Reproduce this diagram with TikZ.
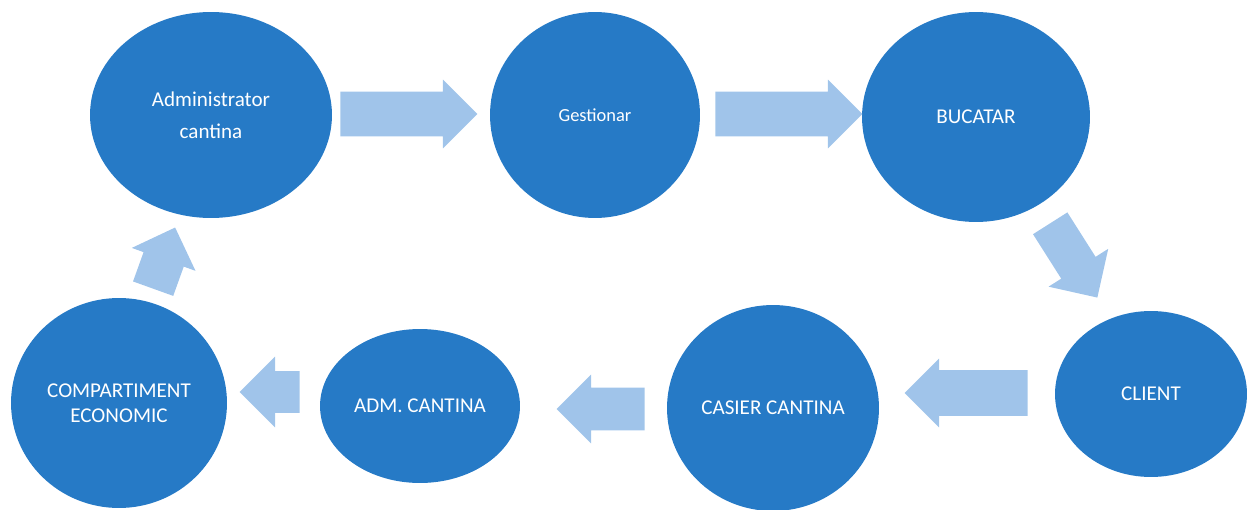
\documentclass[tikz,border=0pt]{standalone}
\usepackage{fontspec}
\setmainfont{Carlito}
\usetikzlibrary{shapes.geometric,shapes.arrows}
\definecolor{cycleblue}{RGB}{38,122,198}
\definecolor{arrowblue}{RGB}{160,196,234}

\begin{document}
\begin{tikzpicture}[x=0.02cm, y=-0.02cm, font=\fontsize{12pt}{14pt}\selectfont]
		\tikzset{circ/.style={ellipse, fill=cycleblue, text=white, inner sep=0pt, align=center}}
		\tikzset{barrow/.style={single arrow, fill=arrowblue, anchor=tail, inner xsep=0pt, inner ysep=0.44cm, minimum width=0pt, single arrow head extend=0.24cm}}
		\useasboundingbox (0,0) rectangle (1254,510);
		% top row
		\node[circ, minimum width=4.84cm, minimum height=4.12cm, font=\fontsize{12pt}{18pt}\selectfont] (admin) at (211,115) {Administrator\\cantina};
		\node[circ, minimum width=4.2cm, minimum height=4.12cm, font=\fontsize{10.5pt}{12pt}\selectfont] (gest) at (595,115) {Gestionar};
		\node[circ, minimum width=4.56cm, minimum height=4.2cm] (bucatar) at (976,117) {BUCATAR};
		% bottom row
		\node[circ, minimum width=3.84cm, minimum height=3.32cm] (client) at (1151,394) {CLIENT};
		\node[circ, minimum width=4.24cm, minimum height=4.12cm] (casier) at (773,408) {CASIER CANTINA};
		\node[circ, minimum width=4.0cm, minimum height=3.08cm] (adm) at (420,406) {ADM. CANTINA};
		\node[circ, minimum width=4.32cm, minimum height=4.2cm] (compart) at (119,403) {COMPARTIMENT\\ECONOMIC};
		% block arrows (placed by their tails)
		\node[barrow, minimum height=2.74cm] (a1) at (340,114) {};
		\node[barrow, minimum height=2.94cm] (a2) at (715,114) {};
		\node[barrow, minimum height=1.76cm, inner ysep=0.4cm, single arrow head extend=0.3cm, rotate=-57.6] (a3) at (1050,223) {};
		\node[barrow, minimum height=2.46cm, inner ysep=0.45cm, single arrow head extend=0.23cm, rotate=180] (a4) at (1028,393) {};
		\node[barrow, minimum height=1.76cm, inner ysep=0.42cm, single arrow head extend=0.26cm, rotate=180] (a5) at (645,409) {};
		\node[barrow, minimum height=1.2cm, inner ysep=0.41cm, single arrow head extend=0.29cm, rotate=180] (a6) at (300,392) {};
		\node[barrow, minimum height=1.3cm, inner ysep=0.42cm, single arrow head extend=0.25cm, rotate=70.2] (a7) at (153,289) {};
	\end{tikzpicture}
\end{document}
